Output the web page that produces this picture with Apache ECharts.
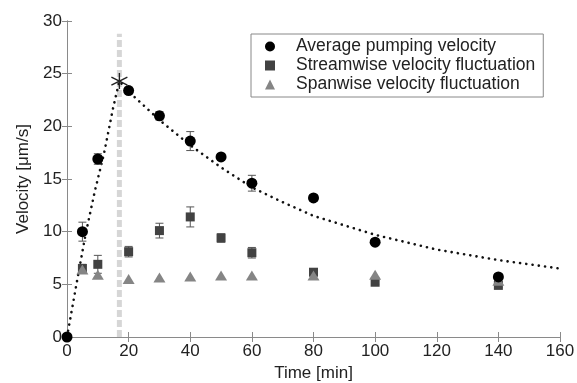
<!DOCTYPE html>
<html>
<head>
    <meta charset="utf-8">
    <title>Velocity vs time</title>
    <script src="https://cdn.jsdelivr.net/npm/echarts@6/dist/echarts.min.js"></script>
    <style>
        body { margin: 0; background: #fff; }
        #main { width: 577px; height: 383px; }
    </style>
</head>
<body>
    <div id="main"></div>
    <script>
        // measured values
        var avgTime = [0, 5, 10, 20, 30, 40, 50, 60, 80, 100, 140];
        var avgVel = [0, 10.0, 16.9, 23.4, 21.0, 18.6, 17.1, 14.6, 13.2, 9.0, 5.7];
        var avgErr = [0, 0.9, 0.5, 0.3, 0.4, 0.9, 0.3, 0.75, 0.3, 0.3, 0.3];

        var flucTime = [5, 10, 20, 30, 40, 50, 60, 80, 100, 140];
        var streamVel = [6.5, 6.9, 8.1, 10.1, 11.4, 9.4, 8.0, 6.15, 5.2, 4.9];
        var streamErr = [0.4, 0.85, 0.5, 0.7, 0.95, 0.4, 0.5, 0.2, 0.2, 0.2];
        var spanVel = [6.4, 5.9, 5.5, 5.65, 5.75, 5.85, 5.85, 5.85, 5.9, 5.35];

        // dotted fit curve
        var fitTime = [0, 3, 6, 9, 12, 15, 17, 20, 30, 40, 50, 60, 70, 80, 100, 120, 140, 160];
        var fitVel = [0, 4.9, 9.7, 13.8, 17.4, 21.8, 24.3, 23.3, 20.6, 18.2, 16.1, 14.2, 12.8, 11.5, 9.7, 8.3, 7.3, 6.5];

        // peak marker and vertical line
        var peakTime = [17];
        var peakVel = [24.3];
        var vlineVel = [0, 28.8];

        var names = ['Average pumping velocity', 'Streamwise velocity fluctuation', 'Spanwise velocity fluctuation'];
        var font = 'Liberation Sans, Arial, sans-serif';

        function pairs(xs, ys) {
            return xs.map(function (x, i) { return [x, ys[i]]; });
        }
        function triples(xs, ys, es) {
            return xs.map(function (x, i) { return [x, ys[i], es[i]]; });
        }

        function errorBars(color) {
            return function (params, api) {
                var x = api.value(0), y = api.value(1), e = api.value(2);
                if (!e) return null;
                var hi = api.coord([x, y + e]);
                var lo = api.coord([x, y - e]);
                var w = 4;
                var st = { stroke: color, lineWidth: 1 };
                return {
                    type: 'group',
                    children: [
                        { type: 'line', shape: { x1: hi[0], y1: hi[1], x2: lo[0], y2: lo[1] }, style: st },
                        { type: 'line', shape: { x1: hi[0] - w, y1: hi[1], x2: hi[0] + w, y2: hi[1] }, style: st },
                        { type: 'line', shape: { x1: lo[0] - w, y1: lo[1], x2: lo[0] + w, y2: lo[1] }, style: st }
                    ]
                };
            };
        }

        var axisCol = '#8a8a8a';
        var txtCol = '#222';

        var chart = echarts.init(document.getElementById('main'));
        chart.setOption({
            animation: false,
            backgroundColor: '#fff',
            grid: { left: 67, right: 17, top: 21, bottom: 46, outerBoundsMode: 'none' },
            legend: {
                data: names,
                orient: 'vertical',
                left: 251,
                top: 34,
                padding: [3, 8, 3, 14],
                itemGap: 0,
                itemWidth: 10,
                itemHeight: 10,
                borderColor: '#888',
                borderWidth: 1,
                backgroundColor: '#fff',
                textStyle: { fontFamily: font, fontSize: 17.5, color: txtCol, lineHeight: 19, padding: [0, 0, 0, 16] }
            },
            xAxis: [{
                type: 'value', min: 0, max: 160, interval: 20,
                name: 'Time [min]', nameLocation: 'middle', nameGap: 27,
                nameTextStyle: { fontFamily: font, fontSize: 17, color: txtCol },
                axisLine: { lineStyle: { color: axisCol } },
                axisTick: { inside: true, length: 5, lineStyle: { color: axisCol } },
                axisLabel: { fontFamily: font, fontSize: 17, color: txtCol, margin: 6 },
                splitLine: { show: false }
            }, {
                type: 'value', min: 0, max: 160, interval: 20, position: 'top',
                axisLine: { lineStyle: { color: axisCol } },
                axisTick: { inside: true, length: 5, lineStyle: { color: axisCol } },
                axisLabel: { show: false },
                splitLine: { show: false }
            }],
            yAxis: [{
                type: 'value', min: 0, max: 30, interval: 5,
                name: 'Velocity [\u03bcm/s]', nameLocation: 'middle', nameGap: 34,
                nameTextStyle: { fontFamily: font, fontSize: 17, color: txtCol },
                axisLine: { show: true, lineStyle: { color: axisCol } },
                axisTick: { show: true, inside: true, length: 5, lineStyle: { color: axisCol } },
                axisLabel: { fontFamily: font, fontSize: 17, color: txtCol, margin: 5 },
                splitLine: { show: false }
            }, {
                type: 'value', min: 0, max: 30, interval: 5, position: 'right',
                axisLine: { show: true, lineStyle: { color: axisCol } },
                axisTick: { show: true, inside: true, length: 5, lineStyle: { color: axisCol } },
                axisLabel: { show: false },
                splitLine: { show: false }
            }],
            series: [
                {
                    // vertical gray dashed line at the peak
                    type: 'line',
                    data: pairs([peakTime[0], peakTime[0]], vlineVel),
                    symbol: 'none',
                    lineStyle: { color: '#d6d6d6', width: 5, type: [7, 3] },
                    z: 1, silent: true
                },
                {
                    type: 'line',
                    data: pairs(fitTime, fitVel),
                    symbol: 'none',
                    lineStyle: { color: '#111', width: 2.6, type: [0.1, 6.2], cap: 'round' },
                    z: 2, silent: true
                },
                {
                    type: 'custom',
                    renderItem: errorBars('#555'),
                    data: triples(flucTime, streamVel, streamErr),
                    z: 3
                },
                {
                    name: names[1],
                    type: 'scatter',
                    data: pairs(flucTime, streamVel),
                    symbol: 'rect',
                    symbolSize: 9,
                    itemStyle: { color: '#424242', opacity: 1 },
                    z: 4
                },
                {
                    name: names[2],
                    type: 'scatter',
                    data: pairs(flucTime, spanVel),
                    symbol: 'triangle',
                    symbolSize: [12, 10],
                    itemStyle: { color: '#858585', opacity: 1 },
                    z: 5
                },
                {
                    type: 'custom',
                    renderItem: errorBars('#555'),
                    data: triples(avgTime, avgVel, avgErr),
                    z: 6
                },
                {
                    name: names[0],
                    type: 'scatter',
                    data: pairs(avgTime, avgVel),
                    symbol: 'circle',
                    symbolSize: 11,
                    itemStyle: { color: '#000', opacity: 1 },
                    z: 7
                },
                {
                    // asterisk marking the peak
                    type: 'scatter',
                    data: pairs(peakTime, peakVel),
                    symbol: 'path://M0,-10L0,10M-8.66,-5L8.66,5M-8.66,5L8.66,-5',
                    symbolSize: 16,
                    itemStyle: { color: 'none', borderColor: '#222', borderWidth: 1.4, opacity: 1 },
                    z: 8, silent: true
                }
            ]
        });
    </script>
</body>
</html>
